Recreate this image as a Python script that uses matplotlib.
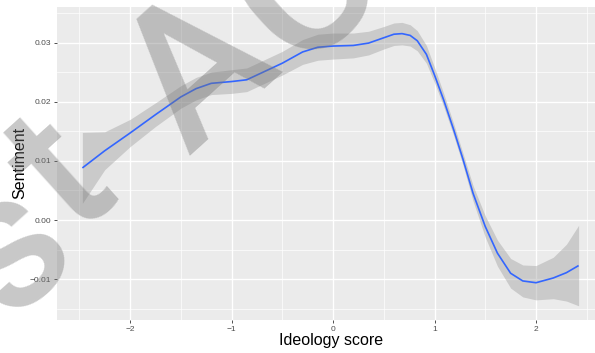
import matplotlib
matplotlib.use("Agg")
import matplotlib.pyplot as plt
from matplotlib.ticker import FixedLocator

# Data (smoothed fit and its standard-error band half-width)
ideology = [-2.47, -2.25, -2.0, -1.75, -1.5, -1.35, -1.2, -1.0, -0.85, -0.7, -0.5,
            -0.3, -0.15, 0.0, 0.2, 0.35, 0.5, 0.6, 0.68, 0.76, 0.83, 0.92, 1.0,
            1.09, 1.19, 1.28, 1.38, 1.5, 1.62, 1.75, 1.87, 2.0, 2.17, 2.3, 2.42]
sentiment = [0.0088, 0.0117, 0.0147, 0.0178, 0.0208, 0.0222, 0.0231, 0.0234, 0.0237,
             0.0249, 0.0265, 0.0284, 0.0292, 0.0294, 0.0295, 0.0299, 0.0308, 0.0314,
             0.0315, 0.0312, 0.0303, 0.0280, 0.0245, 0.0203, 0.0152, 0.0103, 0.0045,
             -0.0011, -0.0056, -0.0090, -0.0103, -0.0106, -0.0098, -0.0089, -0.0077]
band_half = [0.0060, 0.0032, 0.0023, 0.0020, 0.0019, 0.0019, 0.0019, 0.0020, 0.0020,
             0.0020, 0.0020, 0.0021, 0.0022, 0.0022, 0.0021, 0.0020, 0.0019, 0.0019,
             0.0019, 0.0018, 0.0017, 0.0015, 0.0013, 0.0011, 0.0010, 0.0010, 0.0013,
             0.0018, 0.0022, 0.0025, 0.0027, 0.0029, 0.0035, 0.0048, 0.0068]

x_ticks = [-2, -1, 0, 1, 2]
y_ticks = [-0.01, 0.00, 0.01, 0.02, 0.03]
y_tick_labels = ["-0.01", "0.00", "0.01", "0.02", "0.03"]

# Watermark letters
wm_letters = ["s", "t", "A", "C"]

W, H = 595, 353
fig = plt.figure(figsize=(W / 100, H / 100), dpi=100)
left_px, right_px, top_px, bottom_px = 57, 605, 7, 320
ax = fig.add_axes([left_px / W, 1 - bottom_px / H,
                   (right_px - left_px) / W, (bottom_px - top_px) / H])

ax.set_facecolor("#EBEBEB")
for s in ax.spines.values():
    s.set_visible(False)

ax.set_xlim(-2.72, 2.68)
ax.set_ylim(-0.0169, 0.0360)

ax.xaxis.set_major_locator(FixedLocator(x_ticks))
ax.xaxis.set_minor_locator(FixedLocator([-2.5, -1.5, -0.5, 0.5, 1.5, 2.5]))
ax.yaxis.set_major_locator(FixedLocator(y_ticks))
ax.yaxis.set_minor_locator(FixedLocator([-0.015, -0.005, 0.005, 0.015, 0.025, 0.035]))
ax.set_xticklabels([str(t).replace("-", "\u2212") for t in x_ticks],
                   family="Liberation Sans")
ax.set_yticklabels([l.replace("-", "\u2212") for l in y_tick_labels],
                   family="Liberation Sans")

ax.grid(which="major", color="white", linewidth=1.0)
ax.grid(which="minor", color="white", linewidth=0.5)
ax.set_axisbelow(True)
ax.tick_params(which="major", length=2.2, width=0.6, color="#333333",
               labelsize=6, labelcolor="#4D4D4D", pad=2)
ax.tick_params(which="minor", length=0)

lower = [m - h for m, h in zip(sentiment, band_half)]
upper = [m + h for m, h in zip(sentiment, band_half)]
ax.fill_between(ideology, lower, upper, color="#999999", alpha=0.4, linewidth=0, zorder=2)
ax.plot(ideology, sentiment, color="#3366FF", linewidth=1.2, zorder=3,
        solid_capstyle="butt")

fig.text((left_px + right_px) / 2 / W, 1 - 341 / H, "Ideology score",
         ha="center", va="center", fontsize=11.5, family="Liberation Sans")
fig.text(20 / W, 1 - 163 / H, "Sentiment", ha="center", va="center",
         rotation=90, fontsize=11.5, family="Liberation Sans")

# Watermark (each letter anchored at its baseline centre, in pixels from top-left)
wm_anchor_px = [(45, 287), (99, 217), (236, 113), (343, 28)]
for letter, (px, py) in zip(wm_letters, wm_anchor_px):
    fig.text(px / W, 1 - py / H, letter, ha="center", va="baseline", rotation=42,
             rotation_mode="anchor", fontsize=139, family="Roboto",
             weight="medium", color="#767676", alpha=0.4, zorder=10)

fig.savefig("out.png", dpi=100)
